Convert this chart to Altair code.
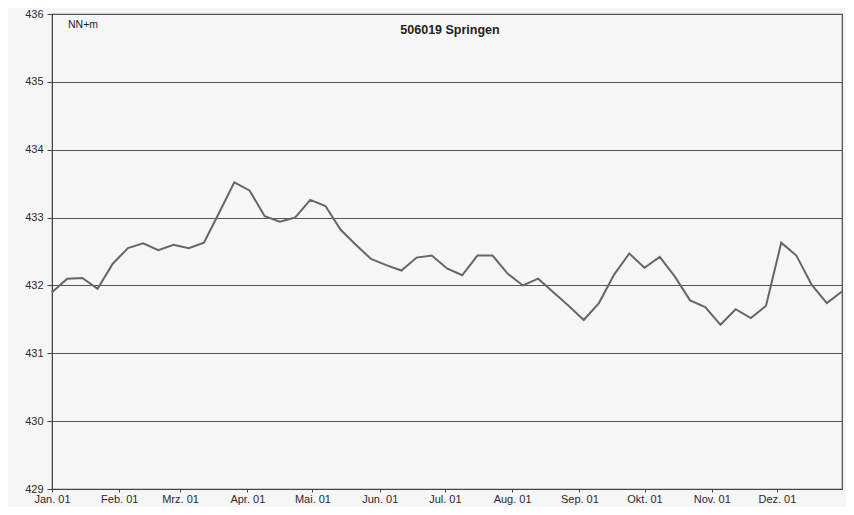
import altair as alt
import pandas as pd

# Weekly water level readings (NN+m), station 506019 Springen, year 2001
levels = [
    431.90, 432.10, 432.11, 431.95, 432.32, 432.55, 432.62, 432.52, 432.60, 432.55,
    432.63, 433.07, 433.52, 433.40, 433.02, 432.94, 433.00, 433.26, 433.17, 432.82,
    432.60, 432.39, 432.30, 432.22, 432.41, 432.44, 432.25, 432.15, 432.44, 432.44,
    432.17, 432.00, 432.10, 431.90, 431.70, 431.49, 431.74, 432.16, 432.47, 432.26,
    432.42, 432.13, 431.78, 431.68, 431.42, 431.65, 431.52, 431.70, 432.63, 432.44,
    432.01, 431.74, 431.91,
]
dates = pd.date_range("2001-01-01", periods=len(levels), freq="7D")
month_names = ["Jan.", "Feb.", "Mrz.", "Apr.", "Mai.", "Jun.", "Jul.", "Aug.",
               "Sep.", "Okt.", "Nov.", "Dez."]
y_ticks = [429, 430, 431, 432, 433, 434, 435, 436]
title_text = "506019 Springen"
unit_text = "NN+m"

df = pd.DataFrame({"date": dates.strftime("%Y-%m-%d"), "level": levels})

def ms(s):
    return int(pd.Timestamp(s, tz="UTC").timestamp() * 1000)

month_ticks = [ms(f"2001-{m:02d}-01") for m in range(1, 13)]
x_domain = [ms("2001-01-01"), ms("2001-12-31")]

label_expr = "[" + ",".join(f"'{m}'" for m in month_names) + "][utcmonth(datum.value)] + ' 01'"

FONT = "Liberation Sans"

base = alt.Chart(df)

line = base.mark_line(color="#666666", strokeWidth=2).encode(
    x=alt.X("date:T",
            scale=alt.Scale(type="utc", domain=x_domain, nice=False),
            axis=alt.Axis(values=month_ticks, labelExpr=label_expr, title=None,
                          grid=False, tickSize=3, tickColor="#444444",
                          domainColor="#444444", labelFontSize=11,
                          labelColor="#2a2a2a", labelFont=FONT,
                          labelPadding=1, labelOverlap=False, labelFlush=False)),
    y=alt.Y("level:Q",
            scale=alt.Scale(domain=[429, 436], nice=False, zero=False),
            axis=alt.Axis(values=y_ticks, format="d", title=None, grid=True,
                          gridColor="#555555", gridWidth=1.2, gridOpacity=1,
                          tickSize=5, tickColor="#444444", domainColor="#444444",
                          labelFontSize=11, labelColor="#2a2a2a", labelFont=FONT,
                          labelPadding=4)),
)

title = alt.Chart(pd.DataFrame({"t": [title_text]})).mark_text(
    font=FONT, fontSize=12.5, fontWeight="bold", color="#222222", align="center",
    baseline="middle",
).encode(text="t:N", x=alt.value(398), y=alt.value(16))

unit = alt.Chart(pd.DataFrame({"t": [unit_text]})).mark_text(
    font=FONT, fontSize=10.5, color="#222222", align="left", baseline="middle",
).encode(text="t:N", x=alt.value(16), y=alt.value(11))

chart = alt.layer(line, title, unit).properties(
    width=790, height=475,
    autosize=alt.AutoSizeParams(type="none"),
    padding={"left": 44, "top": 6, "right": 4, "bottom": 18},
    background="#f6f6f6",
).configure_view(stroke="#444444", strokeWidth=1.2)

chart.save("out.html", embed_options={"renderer": "svg", "actions": False})
